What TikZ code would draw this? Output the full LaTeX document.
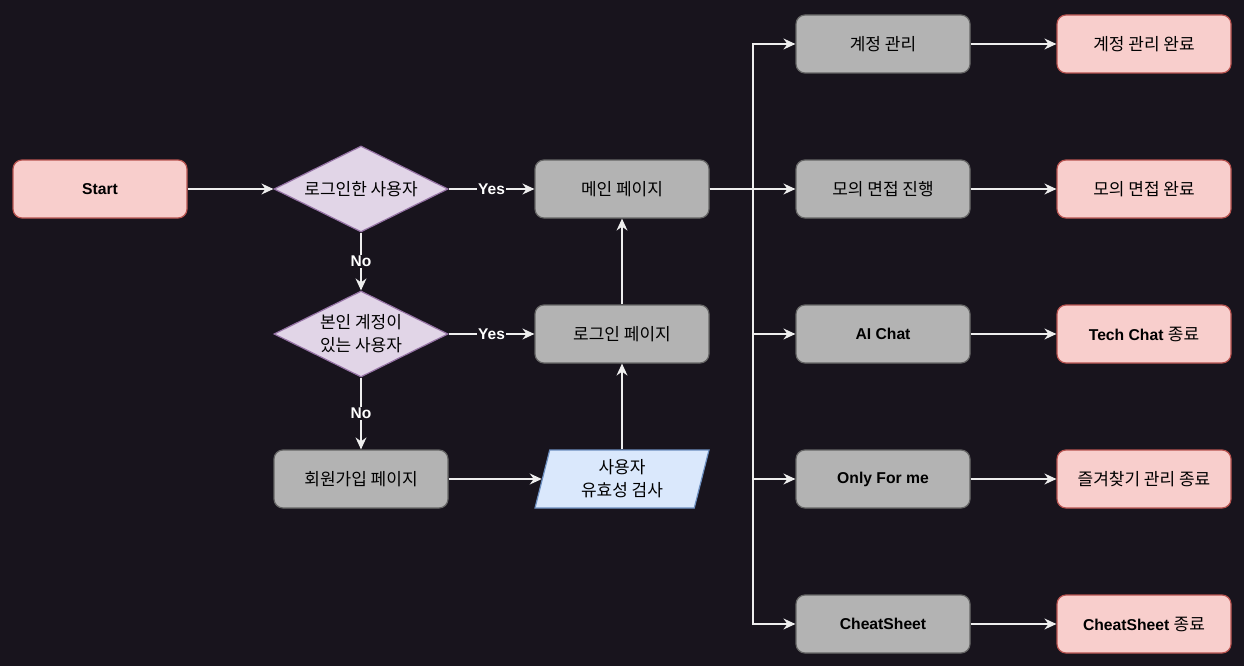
\documentclass[tikz,border=0pt]{standalone}
\usepackage{fontspec}
\setmainfont{Liberation Sans}
\newfontfamily\kr{Noto Sans CJK KR}
\usetikzlibrary{arrows.meta,shapes.geometric}
\definecolor{canvas}{HTML}{18141D}
\definecolor{linec}{HTML}{EEEEEE}
\definecolor{grayfill}{HTML}{B3B3B3}
\definecolor{grayline}{HTML}{666666}
\definecolor{redfill}{HTML}{F8CECC}
\definecolor{redline}{HTML}{B85450}
\definecolor{purfill}{HTML}{E1D5E7}
\definecolor{purline}{HTML}{9673A6}
\definecolor{bluefill}{HTML}{DAE8FC}
\definecolor{blueline}{HTML}{6C8EBF}
% Korean text is set a little larger than the Latin labels
\newcommand{\ko}[1]{{\kr\fontsize{17}{23}\selectfont #1}}
\begin{document}
\begin{tikzpicture}[x=1pt,y=-1pt,
  font=\fontsize{15.7}{23}\selectfont,
  box/.style={rectangle, rounded corners=9pt, minimum width=174pt, minimum height=58pt,
    line width=1.2pt, inner sep=0pt, align=center, text=black},
  proc/.style={box, fill=grayfill, draw=grayline},
  term/.style={box, fill=redfill, draw=redline},
  decision/.style={diamond, aspect=2.02, minimum width=174pt, minimum height=86pt,
    inner sep=0pt, line width=1.2pt, fill=purfill, draw=purline, align=center, text=black},
  io/.style={trapezium, trapezium left angle=69, trapezium right angle=111,
    trapezium stretches body, minimum width=174pt, minimum height=58pt, inner sep=0pt,
    line width=1.2pt, fill=bluefill, draw=blueline, align=center, text=black},
  arr/.style={draw=linec, line width=1.3pt, -{Stealth[length=12pt,width=11pt,inset=4pt]}},
  lab/.style={fill=canvas, text=white, font=\fontsize{15.5}{18}\selectfont\bfseries, inner sep=1.5pt}
]
% canvas
\fill[canvas] (0,0) rectangle (1244,666);
\useasboundingbox (0,0) rectangle (1244,666);

% left part of the flow
\node[term] (start) at (100,189) {\bfseries Start};
\node[decision] (logged) at (361,189) {\ko{로그인한 사용자}};
\node[decision] (hasacct) at (361,334) {\ko{본인 계정이}\\\ko{있는 사용자}};
\node[proc] (signup) at (361,479) {\ko{회원가입 페이지}};
\node[proc] (main) at (622,189) {\ko{메인 페이지}};
\node[proc] (login) at (622,334) {\ko{로그인 페이지}};
\node[io] (valid) at (622,479) {\ko{사용자}\\\ko{유효성 검사}};

% feature column
\node[proc] (acct) at (883,44) {\ko{계정 관리}};
\node[proc] (mock) at (883,189) {\ko{모의 면접 진행}};
\node[proc] (chat) at (883,334) {\bfseries AI Chat};
\node[proc] (fav) at (883,479) {\bfseries Only For me};
\node[proc] (cheat) at (883,624) {\bfseries CheatSheet};

% end states
\node[term] (acctdone) at (1144,44) {\ko{계정 관리 완료}};
\node[term] (mockdone) at (1144,189) {\ko{모의 면접 완료}};
\node[term] (chatdone) at (1144,334) {{\bfseries Tech Chat} \ko{종료}};
\node[term] (favdone) at (1144,479) {\ko{즐겨찾기 관리 종료}};
\node[term] (cheatdone) at (1144,624) {{\bfseries CheatSheet} \ko{종료}};

% connectors
\draw[arr] (start) -- (logged);
\draw[arr] (logged) -- node[lab] {Yes} (main);
\draw[arr] (logged) -- node[lab] {No} (hasacct);
\draw[arr] (hasacct) -- node[lab] {Yes} (login);
\draw[arr] (hasacct) -- node[lab] {No} (signup);
\draw[arr] (signup.east) -- (signup.east -| valid.west);
\draw[arr] (login.south |- valid.north) -- (login.south);
\draw[arr] (login) -- (main);

\coordinate (bus) at (753,189);
\draw[arr] (main.east) -- (bus) |- (acct.west);
\draw[arr] (main.east) -- (mock.west);
\draw[arr] (bus) |- (chat.west);
\draw[arr] (bus) |- (fav.west);
\draw[arr] (bus) |- (cheat.west);

\draw[arr] (acct) -- (acctdone);
\draw[arr] (mock) -- (mockdone);
\draw[arr] (chat) -- (chatdone);
\draw[arr] (fav) -- (favdone);
\draw[arr] (cheat) -- (cheatdone);
\end{tikzpicture}
\end{document}
